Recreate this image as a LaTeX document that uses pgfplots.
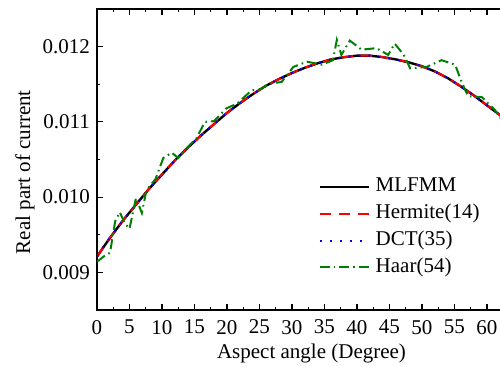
\documentclass[border=0pt]{standalone}
\usepackage{pgfplots}
\pgfplotsset{compat=1.18}
\usepackage{fontspec}
\setmainfont{Liberation Serif}
\definecolor{hgreen}{RGB}{0,128,0}
\newcommand{\fs}{\fontsize{10.5pt}{12.6pt}\selectfont}
\begin{document}
\begin{tikzpicture}
\useasboundingbox (-48.5pt,-28pt) rectangle (201.5pt,155pt);
\begin{axis}[
  at={(0,0)}, anchor=south west,
  scale only axis, width=214.5pt, height=150.5pt,
  xmin=0, xmax=66, ymin=0.0085, ymax=0.0125,
  xtick={0,5,...,60}, minor x tick num=1,
  extra x ticks={62.5}, extra x tick labels={},
  extra x tick style={major tick length=1.6pt},
  ytick={0.009,0.010,0.011,0.012}, yticklabels={0.009,0.010,0.011,0.012},
  minor y tick num=1,
  tick align=inside,
  major tick length=2.8pt, minor tick length=1.6pt,
  /pgf/number format/assume math mode=true,
  tick label style={font=\fs},
  label style={font=\fs},
  xticklabel style={yshift=-1.5pt},
  xlabel={Aspect angle (Degree)},
  ylabel={Real part of current},
  xlabel style={at={(axis description cs:0.5,-0.1595)}, anchor=base},
  ylabel style={at={(axis description cs:-0.1678,0.458)}, anchor=center, rotate=0},
  axis line style={line width=0.6pt},
  every tick/.style={line width=0.6pt, black},
  legend cell align=left,
  legend style={draw=none, fill=none, inner sep=0pt, font=\fs,
    at={(axis description cs:0.515,0.44)}, anchor=north west,
    row sep=4.4pt,
    nodes={inner sep=0pt, text height=7pt, text depth=2pt},
    /tikz/every even column/.append style={column sep=0pt}},
  legend image code/.code={\draw[#1] (0pt,0pt) -- (24.5pt,0pt);},
  /tikz/every odd column/.append style={column sep=3pt},
]
\addplot[black, line width=1.2pt] coordinates {
(0,0.00921) (2,0.00946) (4,0.00969) (6,0.00990) (8,0.01011) (10,0.01030)
(12,0.01049) (14,0.01066) (16,0.01082) (18,0.01097) (20,0.01112) (22,0.01125)
(24,0.01137) (26,0.01148) (28,0.01157) (30,0.01165) (32,0.01172) (34,0.01178)
(36,0.01183) (38,0.01186) (40,0.01188) (42,0.01188) (44,0.01186) (46,0.01183)
(48,0.01179) (50,0.01174) (52,0.01167) (54,0.01158) (56,0.01147) (58,0.01135)
(60,0.01122) (62,0.01109) (64,0.01095) (66,0.01080)
};
\addlegendentry{MLFMM}
\addplot[red, line width=1pt, dash pattern=on 5.8pt off 3.7pt] coordinates {
(0,0.00921) (2,0.00946) (4,0.00969) (6,0.00990) (8,0.01011) (10,0.01030)
(12,0.01049) (14,0.01066) (16,0.01082) (18,0.01097) (20,0.01112) (22,0.01125)
(24,0.01137) (26,0.01148) (28,0.01157) (30,0.01165) (32,0.01172) (34,0.01178)
(36,0.01183) (38,0.01186) (40,0.01188) (42,0.01188) (44,0.01186) (46,0.01183)
(48,0.01179) (50,0.01174) (52,0.01167) (54,0.01158) (56,0.01147) (58,0.01135)
(60,0.01122) (62,0.01109) (64,0.01095) (66,0.01080)
};
\addlegendentry{Hermite(14)}
\addplot[blue, line width=1pt, dash pattern=on 1pt off 4pt] coordinates {
(0,0.00921) (2,0.00946) (4,0.00969) (6,0.00990) (8,0.01011) (10,0.01030)
(12,0.01049) (14,0.01066) (16,0.01082) (18,0.01097) (20,0.01112) (22,0.01125)
(24,0.01137) (26,0.01148) (28,0.01157) (30,0.01165) (32,0.01172) (34,0.01178)
(36,0.01183) (38,0.01186) (40,0.01188) (42,0.01188) (44,0.01186) (46,0.01183)
(48,0.01179) (50,0.01174) (52,0.01167) (54,0.01158) (56,0.01147) (58,0.01135)
(60,0.01122) (62,0.01109) (64,0.01095) (66,0.01080)
};
\addlegendentry{DCT(35)}
\addplot[hgreen, line width=1pt, dash pattern=on 5pt off 2pt on 0.8pt off 2pt] coordinates {
(0,0.00914) (1,0.00921) (2,0.00926) (2.8,0.00968) (3.5,0.00980) (4.3,0.00965)
(5,0.00958) (6,0.00999) (6.9,0.00979) (7.6,0.01009) (9,0.01024) (10.2,0.01052)
(11.5,0.01059) (12.5,0.01052) (14,0.01067) (15.3,0.01078) (16.6,0.01100)
(18,0.01101) (19.9,0.01118) (21.5,0.01124) (23.8,0.01142) (25,0.01143)
(26.6,0.01151) (28.4,0.01153) (30.2,0.01173) (32.3,0.01180) (34.6,0.01176)
(36.3,0.01182) (36.9,0.01209) (37.6,0.01189) (38.9,0.01208) (40.7,0.01196)
(43,0.01198) (44.8,0.01189) (45.8,0.01204) (47.2,0.01189) (48.2,0.01171)
(50.7,0.01173) (53,0.01182) (55.1,0.01176) (56.1,0.01153) (57.1,0.01134)
(59.2,0.01133) (61.2,0.01116) (62.5,0.01100) (64,0.01092) (66,0.01078)
};
\addlegendentry{Haar(54)}
\end{axis}
\end{tikzpicture}
\end{document}
